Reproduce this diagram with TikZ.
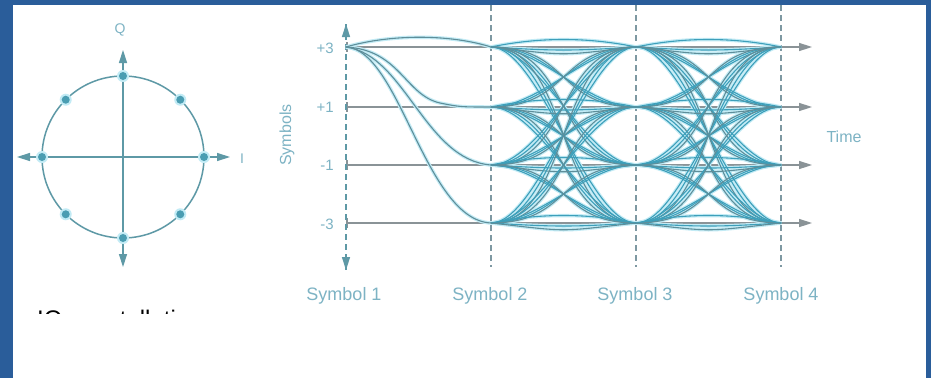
\documentclass[tikz,border=0pt]{standalone}
\usepackage{fontspec}
\setmainfont{Liberation Sans}
\usetikzlibrary{arrows.meta,calc}
\definecolor{frameblue}{HTML}{2A5D9A}
\definecolor{axteal}{HTML}{5E99A6}
\definecolor{dotteal}{HTML}{4A9DB2}
\definecolor{lbl}{HTML}{7DB3C4}
\definecolor{gridgray}{HTML}{8A9397}
\definecolor{dashgray}{HTML}{7E98A2}
\definecolor{eyeAc}{HTML}{3D9FBA}
\definecolor{eyeBc}{HTML}{5E8E9A}
\definecolor{glowc}{HTML}{C2EBF5}
\tikzset{
  axisline/.style={draw=axteal, line width=1.4pt, -{Triangle[length=13pt,width=8pt]}},
  cdot/.style={circle, fill=dotteal, inner sep=0pt, minimum size=8pt},
  chalo/.style={circle, fill=glowc, inner sep=0pt, minimum size=12pt},
  levelline/.style={draw=gridgray, line width=1.5pt, -{Triangle[length=13pt,width=8pt]}},
  symdash/.style={draw=dashgray, line width=1.5pt, dash pattern=on 6pt off 4pt},
  levtick/.style={draw=gridgray, line width=1.5pt},
  lbltext/.style={text=lbl, inner sep=0pt},
  eyeA/.style={draw=eyeAc, line width=1.1pt},
  eyeB/.style={draw=eyeBc, line width=1.1pt},
  halo/.style={draw=glowc, line width=3.5pt},
}
% eye interval: #1 = start x, #2 = extra style
\newcommand\eyeint[2]{%
  \foreach \a in {47,107,165,223}{%
    \foreach \b in {47,107,165,223}{%
      \foreach \c/\col/\off in {48/eyeA/-10,64/eyeA/4,80/eyeB/9}{%
        \pgfmathsetmacro\xa{#1+\c}%
        \pgfmathsetmacro\xb{#1+145-\c}%
        \pgfmathsetmacro\xe{#1+145}%
        \ifnum\a=\b\relax
          \pgfmathsetmacro\yc{\a+\off}%
          \draw[\col,#2] (#1,\a) .. controls (\xa,\yc) and (\xb,\yc) .. (\xe,\b);
        \else
          \draw[\col,#2] (#1,\a) .. controls (\xa,\a) and (\xb,\b) .. (\xe,\b);
        \fi
      }%
    }%
  }%
}
\newcommand\eyefirst[1]{%
  \draw[eyeB,#1] (s1p3) .. controls (390,34) and (450,34) .. (s2p3);
  \draw[eyeB,#1] (s1p3) .. controls (400,50) and (405,95) .. (440,103) .. controls (460,107) .. (s2p1);
  \draw[eyeB,#1] (s1p3) .. controls (405,55) and (425,160) .. (s2m1);
  \draw[eyeB,#1] (s1p3) .. controls (400,50) and (425,220) .. (s2m3);
}
\begin{document}
\begin{tikzpicture}[x=1pt,y=-1pt]
% frame
\fill[frameblue] (0,0) rectangle (931,378);
\fill[white] (13,5) rectangle (926,378);
\useasboundingbox (0,0) rectangle (931,378);

% ---------- IQ constellation ----------
\coordinate (c0) at (123,157);
\draw[axteal, line width=1.5pt] (c0) circle[radius=81];
\coordinate (ileft) at (17,157);
\coordinate (iright) at (230,157);
\coordinate (qtop) at (123,50);
\coordinate (qbot) at (123,267);
\draw[axisline] (c0) -- (iright);
\draw[axisline] (c0) -- (ileft);
\draw[axisline] (c0) -- (qtop);
\draw[axisline] (c0) -- (qbot);
\foreach \ang [count=\k] in {0,45,...,315}{
  \node[chalo] at ($(c0)+(\ang:81)$) {};
  \node[cdot] (pt\k) at ($(c0)+(\ang:81)$) {};
}
\node[lbltext, font=\fontsize{14}{14}\selectfont] (qlab) at (120,30) {Q};
\node[lbltext, font=\fontsize{14}{14}\selectfont] (ilab) at (242,159) {I};

\begin{scope}
  \clip (25,290) rectangle (260,313);
  \node[anchor=base west, inner sep=0pt, font=\fontsize{24}{24}\selectfont] (iqlab) at (37,327) {IQ constellation};
\end{scope}

% ---------- eye diagram ----------
\foreach \nm/\x in {s1/346,s2/491,s3/636,s4/781}{
  \coordinate (\nm p3) at (\x,47);
  \coordinate (\nm p1) at (\x,107);
  \coordinate (\nm m1) at (\x,165);
  \coordinate (\nm m3) at (\x,223);
}
\foreach \nm/\y in {p3/47,p1/107,m1/165,m3/223}{
  \coordinate (end\nm) at (812,\y);
  \draw[levelline] (s1\nm) -- (end\nm);
  \draw[levtick] (347,\y-5) -- (347,\y+5);
}
% dashed symbol lines
\foreach \nm/\x in {s2/491,s3/636,s4/781}{
  \coordinate (\nm top) at (\x,5);
  \coordinate (\nm bot) at (\x,267);
  \draw[symdash] (\nm top) -- (\nm bot);
}
% symbol axis
\coordinate (s1top) at (346,24);
\coordinate (s1bot) at (346,270);
\draw[draw=axteal, line width=1.5pt, dash pattern=on 6pt off 4pt] (s1top) -- (s1bot);
\draw[axteal, line width=1.5pt, -{Triangle[length=13pt,width=8pt]}] (346,38) -- (s1top);
\draw[axteal, line width=1.5pt, -{Triangle[length=13pt,width=8pt]}] (346,255) -- (s1bot);

% eye curves: glow pass, then line pass
\eyefirst{halo}
\eyeint{491}{halo}
\eyeint{636}{halo}
\eyefirst{}
\eyeint{491}{}
\eyeint{636}{}

% labels
\foreach \nm/\t/\y in {p3/+3/48,p1/+1/107,m1/-1/165,m3/-3/224}{
  \node[lbltext, anchor=east, font=\fontsize{15}{15}\selectfont] (lab\nm) at (334,\y) {\t};
}
\node[lbltext, rotate=90, font=\fontsize{16}{16}\selectfont] (symlab) at (287,135) {Symbols};
\node[lbltext, font=\fontsize{16}{16}\selectfont] (timelab) at (844,137) {Time};
\foreach \nm/\x/\k in {s1/344/1,s2/490/2,s3/635/3,s4/781/4}{
  \node[lbltext, font=\fontsize{18}{18}\selectfont] (\nm lab) at (\x,296) {Symbol \k};
}
\end{tikzpicture}
\end{document}
